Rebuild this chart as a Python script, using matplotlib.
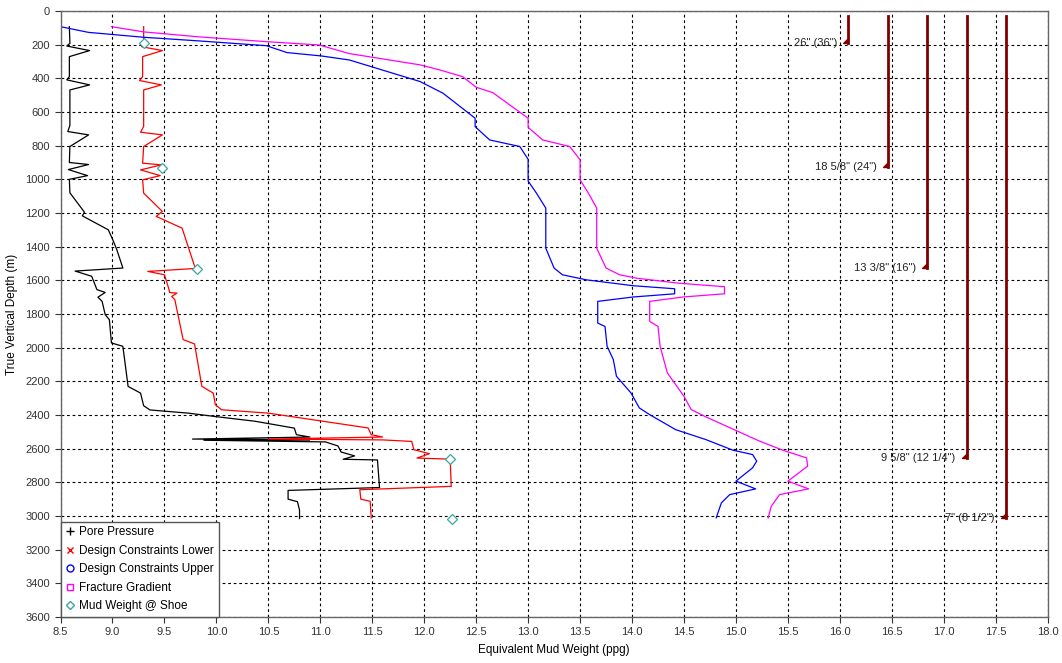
import numpy as np
import matplotlib
matplotlib.use("Agg")
import matplotlib.pyplot as plt
from matplotlib.lines import Line2D

plt.rcParams['font.family'] = ['Liberation Sans', 'DejaVu Sans']

# Pore pressure (ppg) vs TVD (m)
pp_ppg = [8.585, 8.59, 8.56, 8.78, 8.585, 8.585, 8.56, 8.78, 8.59, 8.59, 8.57, 8.77, 8.59,
          8.585, 8.77, 8.575, 8.76, 8.585, 8.59, 8.73, 8.71, 8.96, 9.0, 9.04, 9.10, 8.64,
          8.80, 8.85, 8.93, 8.86, 8.90, 8.93, 8.97, 8.99, 9.10, 9.15, 9.27, 9.30, 9.36,
          9.73, 10.0, 10.37, 10.75, 10.77, 10.90, 9.77, 10.90, 9.88, 11.05, 11.17, 11.20,
          11.33, 11.22, 11.55, 11.57, 10.69, 10.69, 10.78, 10.80, 10.80]
pp_tvd = [93, 192, 208, 235, 271, 390, 409, 439, 469, 680, 716, 736, 805,
          900, 912, 942, 978, 1000, 1080, 1195, 1217, 1300, 1355, 1415, 1527, 1545,
          1576, 1655, 1672, 1700, 1725, 1804, 1834, 1972, 1992, 2230, 2270, 2345, 2370,
          2389, 2410, 2437, 2478, 2517, 2531, 2543, 2547, 2550, 2560, 2584, 2620,
          2643, 2663, 2667, 2831, 2848, 2900, 2915, 2965, 3015]

# Design constraints lower
lo_ppg = [9.30, 9.30, 9.28, 9.48, 9.29, 9.29, 9.26, 9.47, 9.30, 9.30, 9.27, 9.48, 9.30,
          9.29, 9.47, 9.27, 9.46, 9.29, 9.30, 9.48, 9.42, 9.67, 9.79, 9.81, 9.34, 9.50,
          9.54, 9.55, 9.62, 9.57, 9.60, 9.63, 9.68, 9.79, 9.86, 9.97, 9.99, 10.05, 10.50,
          11.46, 11.49, 11.60, 10.50, 11.60, 11.88, 11.90, 12.05, 11.93, 12.25, 12.26,
          11.38, 11.39, 11.48, 11.49]
lo_tvd = [93, 182, 212, 235, 271, 390, 413, 439, 469, 686, 720, 736, 805,
          904, 914, 944, 978, 1003, 1082, 1191, 1220, 1290, 1516, 1529, 1547, 1567,
          1646, 1672, 1676, 1696, 1715, 1804, 1952, 1978, 2230, 2270, 2339, 2369, 2389,
          2477, 2517, 2531, 2543, 2548, 2557, 2606, 2630, 2656, 2662, 2824,
          2844, 2900, 2913, 3012]

# Design constraints upper
up_ppg = [8.50, 8.77, 9.30, 9.84, 10.48, 10.68, 11.01, 11.28, 11.96, 12.18, 12.49, 12.49,
          12.63, 12.92, 13.0, 13.0, 13.08, 13.17, 13.17, 13.25, 13.33, 13.56, 14.01, 14.41,
          14.41, 14.01, 13.67, 13.67, 13.74, 13.76, 13.82, 13.85, 13.99, 14.07, 14.17,
          14.42, 14.71, 14.97, 15.16, 15.20, 15.16, 15.00, 15.19, 14.94, 14.86, 14.81]
up_tvd = [93, 127, 156, 178, 206, 247, 267, 291, 419, 488, 637, 687,
          766, 805, 881, 1010, 1082, 1171, 1409, 1527, 1567, 1597, 1632, 1650,
          1680, 1699, 1725, 1854, 1874, 1992, 2071, 2170, 2269, 2358, 2398,
          2487, 2546, 2609, 2635, 2674, 2714, 2793, 2839, 2873, 2922, 3011]

# Fracture gradient
fg_ppg = [8.99, 9.30, 9.84, 10.48, 10.99, 11.28, 11.96, 12.15, 12.37, 12.50, 12.66, 13.0,
          13.0, 13.14, 13.40, 13.50, 13.50, 13.58, 13.66, 13.66, 13.75, 13.88, 14.04, 14.45,
          14.89, 14.89, 14.49, 14.17, 14.17, 14.25, 14.27, 14.34, 14.50, 14.57, 14.70,
          14.91, 15.23, 15.45, 15.68, 15.69, 15.50, 15.70, 15.42, 15.34, 15.31]
fg_tvd = [93, 124, 154, 182, 202, 253, 320, 350, 390, 453, 485, 637,
          691, 766, 805, 884, 1003, 1082, 1171, 1409, 1527, 1567, 1587, 1617,
          1638, 1680, 1699, 1725, 1844, 1874, 1992, 2150, 2289, 2368, 2408,
          2467, 2556, 2609, 2655, 2704, 2793, 2839, 2873, 2942, 3011]

# Mud weight at casing shoes
mw_ppg = [9.30, 9.48, 9.81, 12.25, 12.27]
mw_tvd = [188, 930, 1531, 2662, 3018]

# Casing strings
casing_labels = ['26" (36")', '18 5/8" (24")', '13 3/8" (16")', '9 5/8" (12 1/4")', '7" (8 1/2")']
casing_x = [16.08, 16.46, 16.84, 17.22, 17.60]
casing_shoe = [188, 924, 1527, 2655, 3011]
casing_top = 30


def main():
    fig = plt.figure(figsize=(10.62, 6.63), dpi=100)
    ax = fig.add_axes([0.057, 0.0694, 0.9295, 0.914])

    ax.plot(pp_ppg, pp_tvd, color='black', lw=0.9)
    ax.plot(lo_ppg, lo_tvd, color='#ff0000', lw=0.9)
    ax.plot(up_ppg, up_tvd, color='#0000ff', lw=0.9)
    ax.plot(fg_ppg, fg_tvd, color='#ff00ff', lw=0.9)
    ax.plot(mw_ppg, mw_tvd, ls='none', marker='D', ms=5, mfc='white',
            mec='#3aa6a6', mew=0.9)

    shoe_marker = [(0, 0), (-1, 0), (0, 1), (0, 0)]
    for lab, cx, cd in zip(casing_labels, casing_x, casing_shoe):
        ax.plot([cx, cx], [casing_top, cd], color='#800000', lw=2)
        ax.plot([cx], [cd], ls='none', marker=shoe_marker, ms=7, color='#800000')
        ax.annotate(lab, (cx, cd), xytext=(-8, 0), textcoords='offset points',
                    ha='right', va='center', fontsize=8, color='#222222')

    ax.set_xlim(8.5, 18.0)
    ax.set_ylim(3600, 0)
    ax.set_xticks(np.arange(8.5, 18.01, 0.5))
    ax.set_xticklabels([f"{v:.1f}" for v in np.arange(8.5, 18.01, 0.5)])
    ax.set_yticks(np.arange(0, 3601, 200))
    ax.tick_params(labelsize=8, colors='#333333', length=4, width=0.8)
    ax.grid(True, color='black', ls=(0, (2.5, 2.5)), lw=0.8)
    for sp in ax.spines.values():
        sp.set_color('#666666')
        sp.set_linewidth(1.0)

    ax.set_xlabel('Equivalent Mud Weight (ppg)', fontsize=8.5, labelpad=5)
    ax.set_ylabel('True Vertical Depth (m)', fontsize=8.5, labelpad=5)

    handles = [
        Line2D([], [], ls='none', marker='+', color='black', ms=6, mew=1),
        Line2D([], [], ls='none', marker='x', color='#ff0000', ms=4.5, mew=1),
        Line2D([], [], ls='none', marker='o', mfc='white', mec='#0000ff', ms=5, mew=1),
        Line2D([], [], ls='none', marker='s', mfc='white', mec='#ff00ff', ms=5, mew=1),
        Line2D([], [], ls='none', marker='D', mfc='white', mec='#3aa6a6', ms=4.5, mew=1),
    ]
    names = ['Pore Pressure', 'Design Constraints Lower', 'Design Constraints Upper',
             'Fracture Gradient', 'Mud Weight @ Shoe']
    leg = ax.legend(handles, names, loc='lower left', bbox_to_anchor=(0, 0),
                    borderaxespad=0, fancybox=False, framealpha=1, edgecolor='#555555',
                    fontsize=8.5, handlelength=0.8, handletextpad=0.4, labelspacing=0.55,
                    borderpad=0.4)
    leg.get_frame().set_linewidth(1.0)

    fig.savefig('out.png', dpi=100)


if __name__ == "__main__":
    main()
